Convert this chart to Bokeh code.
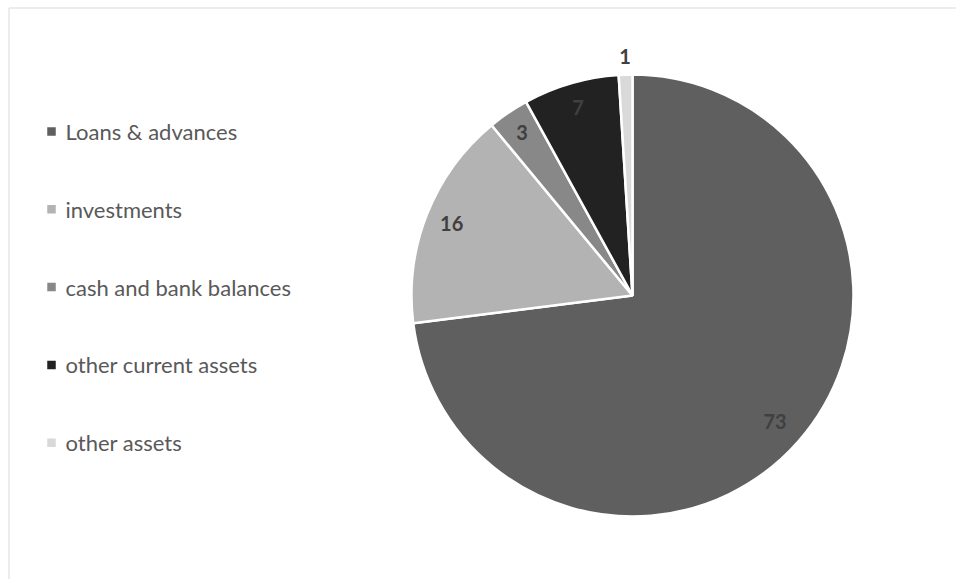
import math
from bokeh.plotting import figure
from bokeh.models import Range1d, ColumnDataSource
from bokeh.core.properties import value
from bokeh.embed import file_html
from bokeh.resources import INLINE

# ---- data ----
categories = ["Loans & advances", "investments", "cash and bank balances",
              "other current assets", "other assets"]
values = [73, 16, 3, 7, 1]
labels = ["73", "16", "3", "7", "1"]

# ---- style ----
colors = ["#5f5f5f", "#b3b3b3", "#888888", "#222222", "#d9d9d9"]
label_r = [0.86, 0.88, 0.89, 0.885, 1.08]   # radial position of data labels (fraction of R)

W, H = 956, 579
CX, CY, R = 632, H - 295, 221

p = figure(width=W, height=H, x_range=Range1d(0, W), y_range=Range1d(0, H),
           output_backend="svg", toolbar_location=None, min_border=0,
           x_axis_location=None, y_axis_location=None)
p.grid.visible = False
p.outline_line_color = None
p.background_fill_color = "white"
p.border_fill_color = "white"

# chart border (extends past right/bottom edge like the reference crop)
p.quad(left=8.5, right=W + 20, top=H - 7.5, bottom=-20,
       fill_color=None, line_color="#d9d9d9", line_width=1)

# ---- pie ----
total = float(sum(values))
starts, ends, mids = [], [], []
cum = 0.0
for v in values:
    a0 = math.pi / 2 - 2 * math.pi * cum / total
    cum += v
    a1 = math.pi / 2 - 2 * math.pi * cum / total
    starts.append(a0)
    ends.append(a1)
    mids.append((a0 + a1) / 2)

src = ColumnDataSource(dict(start=starts, end=ends, color=colors))
p.wedge(x=CX, y=CY, radius=R, start_angle="start", end_angle="end",
        direction="clock", fill_color="color", line_color="white",
        line_width=2.5, source=src)

lx = [CX + R * f * math.cos(m) for f, m in zip(label_r, mids)]
ly = [CY + R * f * math.sin(m) for f, m in zip(label_r, mids)]
p.text(x=lx, y=ly, text=labels, text_align="center", text_baseline="middle",
       text_font=value("Lato"), text_font_style="bold", text_font_size="20px",
       text_color="#404040")

# ---- legend ----
LX, LY0, LDY = 51, 131, 77.8
ly_leg = [H - (LY0 + i * LDY) for i in range(len(categories))]
p.rect(x=[LX] * len(categories), y=ly_leg, width=8.5, height=8.5,
       fill_color=colors, line_color=None)
p.text(x=[LX + 14] * len(categories), y=ly_leg, text=categories,
       text_align="left", text_baseline="middle",
       text_font=value("Lato"), text_font_size="22px", text_color="#595959")

open("out.html", "w").write(file_html(p, INLINE))
